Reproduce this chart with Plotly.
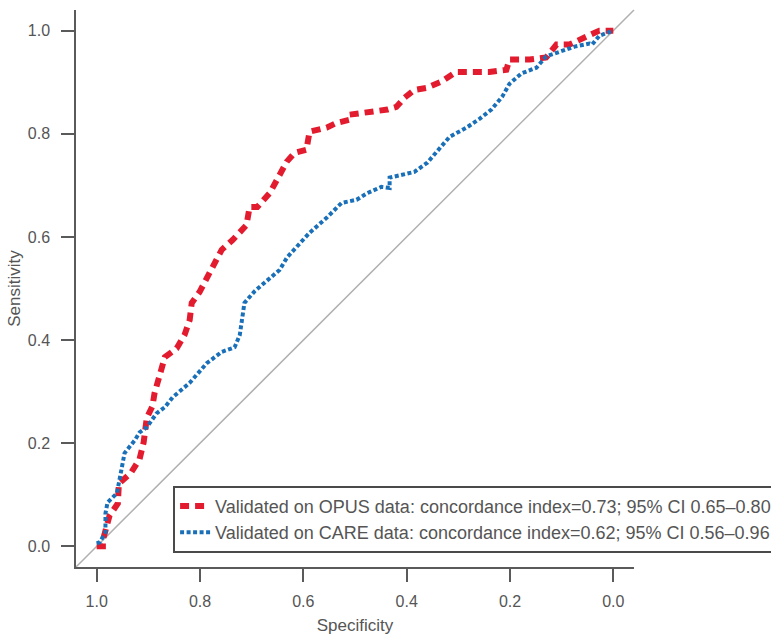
import plotly.graph_objects as go

# OPUS validation ROC curve (red)
opus_spec = [1.0, 0.988, 0.988, 0.983, 0.975, 0.959, 0.957, 0.934, 0.917, 0.909, 0.903,
             0.892, 0.888, 0.878, 0.868, 0.845, 0.830, 0.820, 0.816, 0.801, 0.787,
             0.772, 0.758, 0.737, 0.710, 0.704, 0.689, 0.665, 0.646, 0.632, 0.617,
             0.594, 0.588, 0.555, 0.536, 0.511, 0.511, 0.482, 0.458, 0.437, 0.420,
             0.404, 0.385, 0.362, 0.333, 0.304, 0.240, 0.207, 0.201, 0.162, 0.130,
             0.110, 0.085, 0.060, 0.027, 0.0]
opus_sens = [0.0, 0.0, 0.012, 0.027, 0.060, 0.083, 0.122, 0.142, 0.169, 0.202, 0.249,
             0.272, 0.297, 0.332, 0.367, 0.384, 0.410, 0.439, 0.472, 0.493, 0.520,
             0.546, 0.575, 0.594, 0.623, 0.658, 0.658, 0.685, 0.717, 0.746, 0.763,
             0.769, 0.804, 0.812, 0.821, 0.827, 0.837, 0.841, 0.843, 0.847, 0.852,
             0.870, 0.885, 0.889, 0.901, 0.920, 0.920, 0.924, 0.944, 0.944, 0.948,
             0.973, 0.973, 0.986, 1.0, 1.0]

# CARE validation ROC curve (blue)
care_spec = [1.0, 0.994, 0.983, 0.983, 0.979, 0.961, 0.956, 0.952, 0.946, 0.926, 0.917,
             0.903, 0.894, 0.884, 0.868, 0.853, 0.820, 0.787, 0.758, 0.733, 0.723,
             0.718, 0.714, 0.694, 0.671, 0.646, 0.631, 0.613, 0.588, 0.555, 0.526,
             0.497, 0.476, 0.449, 0.433, 0.433, 0.408, 0.385, 0.360, 0.342, 0.317,
             0.284, 0.259, 0.236, 0.215, 0.201, 0.178, 0.149, 0.130, 0.104, 0.075,
             0.046, 0.041, 0.027, 0.008, 0.0]
care_sens = [0.006, 0.008, 0.027, 0.064, 0.085, 0.103, 0.128, 0.148, 0.181, 0.206, 0.221,
             0.231, 0.245, 0.258, 0.270, 0.289, 0.317, 0.355, 0.377, 0.386, 0.410,
             0.445, 0.472, 0.495, 0.515, 0.536, 0.561, 0.581, 0.608, 0.637, 0.666,
             0.672, 0.685, 0.697, 0.695, 0.715, 0.720, 0.726, 0.744, 0.765, 0.794,
             0.812, 0.829, 0.847, 0.872, 0.897, 0.917, 0.928, 0.950, 0.959, 0.969,
             0.975, 0.973, 0.990, 0.998, 1.0]

labels = [
    "Validated on OPUS data: concordance index=0.73; 95% CI 0.65\u20130.80",
    "Validated on CARE data: concordance index=0.62; 95% CI 0.56\u20130.96",
]
tick_vals = [0.0, 0.2, 0.4, 0.6, 0.8, 1.0]

FONT = "Liberation Sans, Arial, Helvetica, sans-serif"
TXT = "#555555"
AX = "#5a5a5a"

fig = go.Figure()
fig.add_trace(go.Scatter(x=opus_spec, y=opus_sens, mode="lines", name=labels[0],
                         line=dict(color="#e31b2e", width=6, dash="9px,6px")))
fig.add_trace(go.Scatter(x=care_spec, y=care_sens, mode="lines", name=labels[1],
                         line=dict(color="#1a70b8", width=4, dash="4px,2.5px")))

# chance diagonal across the whole plot region
fig.add_shape(type="line", xref="paper", yref="paper", x0=0, y0=0, x1=1, y1=1,
              line=dict(color="#b0b0b0", width=1.5), layer="below")

axis_common = dict(
    showgrid=False, zeroline=False, showline=True, linecolor=AX, linewidth=1.5,
    ticks="outside", ticklen=13, tickwidth=1.5, tickcolor=AX,
    tickvals=tick_vals, tickformat=".1f",
    tickfont=dict(family=FONT, size=16, color=TXT),
)

fig.update_layout(
    width=771, height=635,
    margin=dict(l=76, r=137, t=10, b=68, autoexpand=False),
    paper_bgcolor="white", plot_bgcolor="white",
    font=dict(family=FONT, size=16, color=TXT),
    xaxis=dict(range=[1.04, -0.04], ticklabelstandoff=6,
               title=dict(text="Specificity", standoff=10,
                          font=dict(family=FONT, size=17, color=TXT)),
               **axis_common),
    yaxis=dict(range=[-0.04, 1.04], ticklabelstandoff=8,
               title=dict(text="Sensitivity", standoff=3,
                          font=dict(family=FONT, size=17, color=TXT)),
               **axis_common),
    legend=dict(x=0.174, y=0.146, xanchor="left", yanchor="top",
                bgcolor="white", bordercolor="#4a4a4a", borderwidth=2,
                font=dict(family=FONT, size=18, color=TXT),
                itemwidth=30, tracegroupgap=0),
    showlegend=True,
)

fig.write_html("out.html", config={"displayModeBar": False},
               post_script="document.body.style.margin='0';")
